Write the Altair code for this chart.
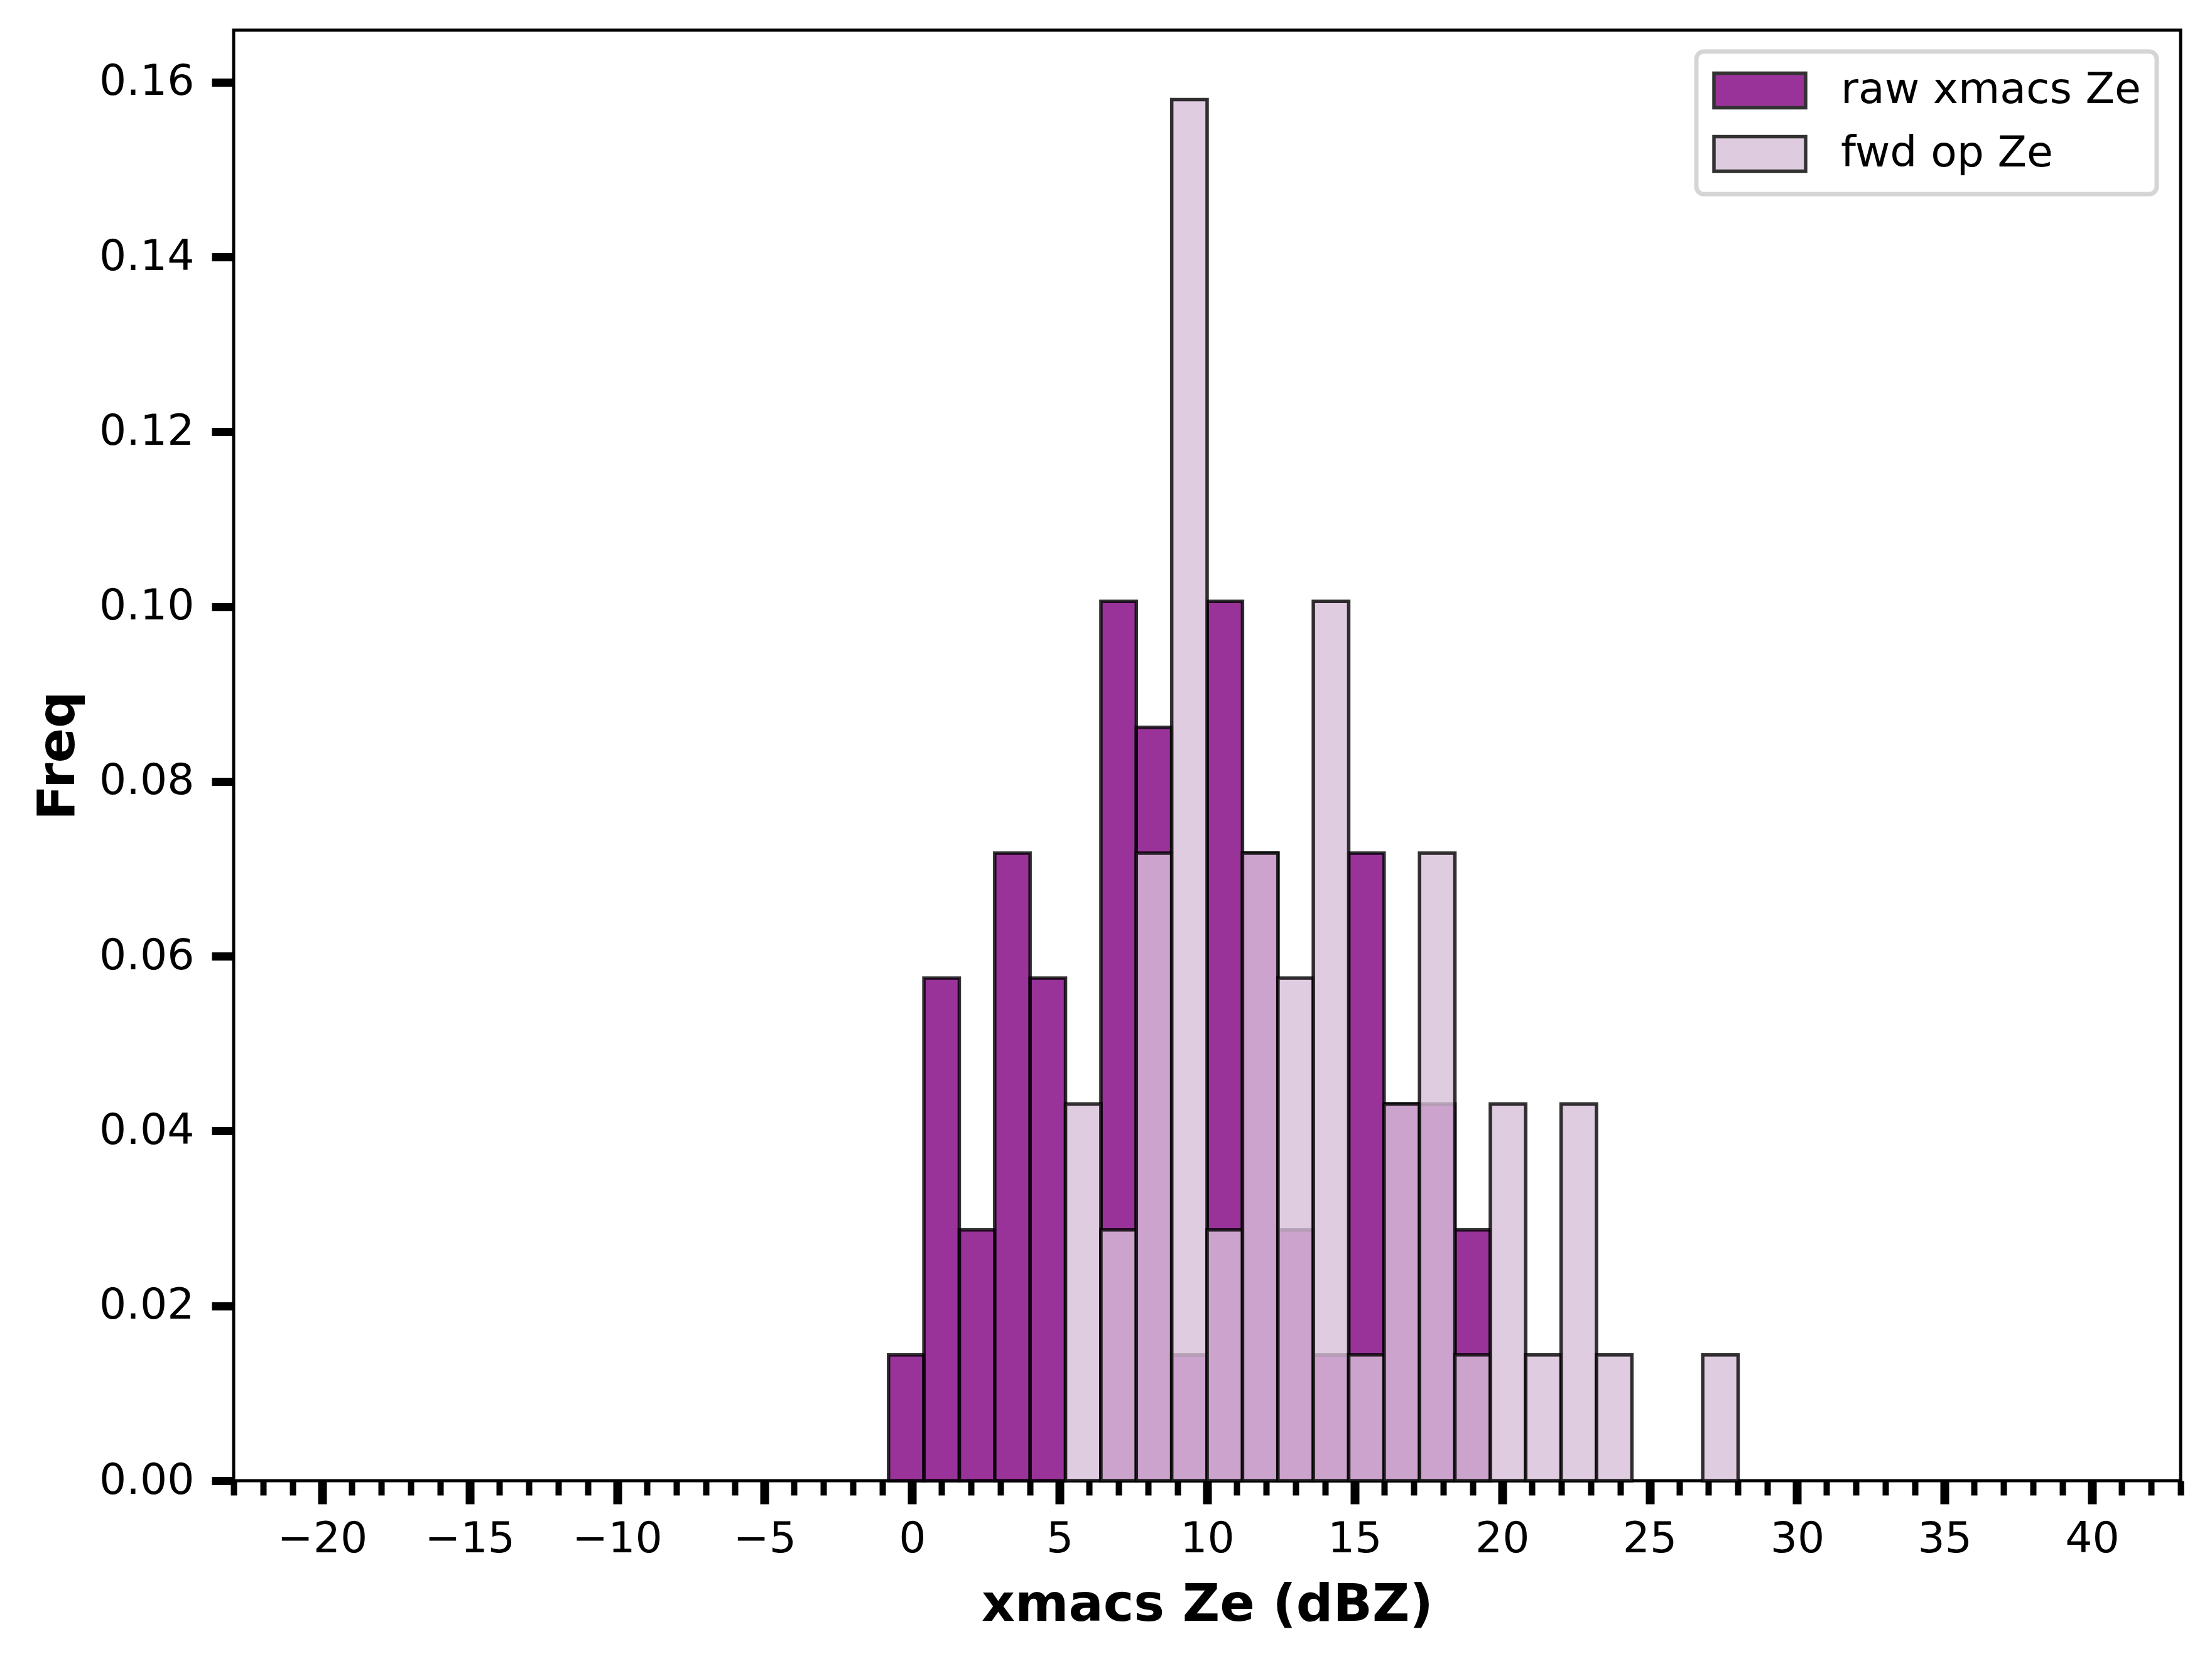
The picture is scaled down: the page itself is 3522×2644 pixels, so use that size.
import altair as alt
import pandas as pd

# ---- data ----
bin_left = [-0.8, 0.4, 1.6, 2.8, 4.0, 5.2, 6.4, 7.6, 8.8, 10.0, 11.2, 12.4,
            13.6, 14.8, 16.0, 17.2, 18.4, 19.6, 20.8, 22.0, 23.2, 24.4, 25.6, 26.8]
bin_right = [0.4, 1.6, 2.8, 4.0, 5.2, 6.4, 7.6, 8.8, 10.0, 11.2, 12.4, 13.6,
             14.8, 16.0, 17.2, 18.4, 19.6, 20.8, 22.0, 23.2, 24.4, 25.6, 26.8, 28.0]
raw_freq = [0.0144, 0.0575, 0.0287, 0.0718, 0.0575, 0.0, 0.1006, 0.0862,
            0.0144, 0.1006, 0.0718, 0.0287, 0.0144, 0.0718, 0.0431, 0.0431,
            0.0287, 0.0, 0.0, 0.0, 0.0, 0.0, 0.0, 0.0]
fwd_freq = [0.0, 0.0, 0.0, 0.0, 0.0, 0.0431, 0.0287, 0.0718,
            0.1580, 0.0287, 0.0718, 0.0575, 0.1006, 0.0144, 0.0431, 0.0718,
            0.0144, 0.0431, 0.0144, 0.0431, 0.0144, 0.0, 0.0, 0.0144]
series_names = ["raw xmacs Ze", "fwd op Ze"]
series_colors = ["#800080", "#D8BFD8"]
x_tick_values = list(range(-23, 44))
y_tick_values = [0.0, 0.02, 0.04, 0.06, 0.08, 0.10, 0.12, 0.14, 0.16]

rows = []
for name, vals in zip(series_names, [raw_freq, fwd_freq]):
    for lo, hi, v in zip(bin_left, bin_right, vals):
        if v > 0:
            rows.append({"series": name, "left": lo, "right": hi, "freq": v})
df = pd.DataFrame(rows)

FONT = "DejaVu Sans"

x_enc = alt.X(
    "left:Q",
    scale=alt.Scale(domain=[-23, 43], nice=False, zero=False),
    axis=alt.Axis(
        values=x_tick_values,
        labelExpr="datum.value % 5 === 0 ? datum.label : ''",
        tickSize={"condition": {"test": "datum.value % 5 === 0", "value": 37}, "value": 23},
        tickWidth={"condition": {"test": "datum.value % 5 === 0", "value": 14}, "value": 10},
        labelPadding=22,
        labelFlush=False,
        labelOverlap=False,
        titlePadding=30,
    ),
    title="xmacs Ze (dBZ)",
)
y_enc = alt.Y(
    "freq:Q",
    scale=alt.Scale(domain=[0, 0.16595], nice=False, zero=True),
    axis=alt.Axis(
        values=y_tick_values,
        format=".2f",
        tickSize=35,
        tickWidth=13,
        labelPadding=28,
        labelOverlap=False,
        titlePadding=38,
    ),
    title="Freq",
)
fill_enc = alt.Fill(
    "series:N",
    scale=alt.Scale(domain=series_names, range=series_colors),
    legend=alt.Legend(
        title=None,
        orient="none",
        legendX=2329,
        legendY=34,
        symbolType="M-1,-0.809H3.294V0.809H-1Z",
        symbolSize=4624,
        symbolStrokeColor="black",
        symbolStrokeWidth=5.5,
        symbolOpacity=0.8,
        labelFontSize=68,
        labelFont=FONT,
        labelColor="black",
        labelOffset=131,
        labelLimit=2000,
        rowPadding=23,
        padding=25,
        strokeColor="#d5d5d5",
        fillColor="white",
        cornerRadius=12,
    ),
)

base = alt.Chart(df).mark_bar(
    stroke="black", strokeOpacity=0.8, fillOpacity=0.8, strokeWidth=5.5
).encode(x=x_enc, x2="right:Q", y=y_enc, y2=alt.datum(0), fill=fill_enc)

raw_layer = base.transform_filter(alt.datum.series == series_names[0])
fwd_layer = base.transform_filter(alt.datum.series == series_names[1])

chart = alt.layer(raw_layer, fwd_layer).properties(
    width=3100,
    height=2309,
    autosize=alt.AutoSizeParams(type="none"),
    padding={"left": 364, "top": 40, "right": 40, "bottom": 277},
    background="white",
).configure_view(
    stroke="black", strokeWidth=5, fill="white"
).configure_axis(
    domain=False,
    grid=False,
    tickColor="black",
    labelColor="black",
    labelFont=FONT,
    labelFontSize=68,
    titleFont=FONT,
    titleFontSize=82,
    titleFontWeight="bold",
    titleColor="black",
).configure_legend(
    strokeWidth=7,
)

chart.save("out.html", embed_options={"renderer": "svg", "actions": False})
